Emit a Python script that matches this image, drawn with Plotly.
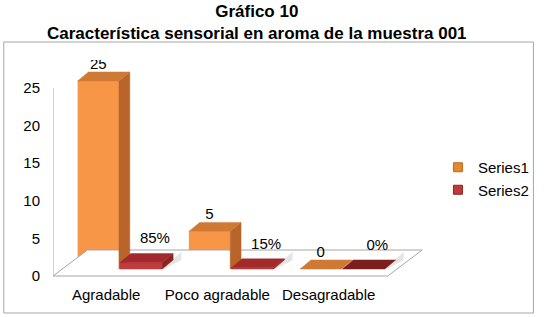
import plotly.graph_objects as go

# ---------------- data ----------------
categories = ["Agradable", "Poco agradable", "Desagradable"]
series1 = [25, 5, 0]
series2 = [0.85, 0.15, 0.0]
series2_labels = ["85%", "15%", "0%"]
y_ticks = [0, 5, 10, 15, 20, 25]

# ---------------- geometry (pixel-based helpers) ----------------
W, H = 546, 317
ML, MR, MT, MB = 53, 106, 60, 37
PW, PH = W - ML - MR, H - MT - MB
SX = 113.0          # px per category unit
SY = 7.52           # px per y unit
X0_PX = 107         # pixel centre of first category
Y0_PX = 276         # pixel of y = 0
xmin = (ML - X0_PX) / SX
xmax = (W - MR - X0_PX) / SX
ymin = -(MT + PH - Y0_PX) / SY
ymax = ymin + PH / SY

DX = 11 / SX        # depth offset
DY = 9 / SY
BASE = 7 / SY       # front faces sit slightly above the floor front edge
W1 = 42 / SX
OFF1 = -29 / SX
W2 = 43 / SX
OFF2 = 14 / SX

FONT = "Liberation Sans, Arial, sans-serif"
OR_FRONT, OR_SIDE, OR_TOP = "#F79646", "#B8642A", "#CF7A34"
RD_FRONT, RD_SIDE, RD_TOP = "#C43B3B", "#8E2222", "#A32A2C"


def px_to_paper_x(px):
    return (px - ML) / PW


def px_to_paper_y(py):
    return 1 - (py - MT) / PH


fig = go.Figure()

xs = list(range(len(categories)))

# floor parallelogram (front edge at y=0, back edge depth ~35px/26px)
fdx, fdy = 35 / SX, 26 / SY
fx_r = (393 - X0_PX) / SX
fig.add_trace(go.Scatter(
    x=[xmin, fx_r, fx_r + fdx, xmin + fdx, xmin],
    y=[0, 0, fdy, fdy, 0],
    mode="lines", line=dict(color="#A6A6A6", width=1),
    fill="toself", fillcolor="white", hoverinfo="skip", showlegend=False))
# vertical axis line
fig.add_trace(go.Scatter(
    x=[xmin, xmin], y=[0, max(y_ticks)], mode="lines",
    line=dict(color="#A6A6A6", width=1), hoverinfo="skip", showlegend=False))

# front faces (bars)
fig.add_trace(go.Bar(x=xs, y=series1, base=BASE, width=W1, offset=OFF1,
                     marker=dict(color=OR_FRONT, line=dict(width=0)),
                     showlegend=False, hoverinfo="skip"))
fig.add_trace(go.Bar(x=xs, y=series2, base=BASE, width=W2, offset=OFF2,
                     marker=dict(color=RD_FRONT, line=dict(width=0)),
                     showlegend=False, hoverinfo="skip"))


def poly(xv, yv, color):
    fig.add_trace(go.Scatter(x=xv + [xv[0]], y=yv + [yv[0]], mode="lines",
                             line=dict(color=color, width=0.5), fill="toself",
                             fillcolor=color, hoverinfo="skip", showlegend=False))


for i, c in enumerate(xs):
    # series 1 box
    v = series1[i]
    l, r = c + OFF1, c + OFF1 + W1
    b, t = BASE, BASE + v
    if v > 0:
        poly([r, r + DX, r + DX, r], [b, b + DY, t + DY, t], OR_SIDE)
    poly([l, l + DX, r + DX, r], [t, t + DY, t + DY, t], OR_TOP)
    # series 2 box
    v2 = series2[i]
    l2, r2 = c + OFF2, c + OFF2 + W2
    t2 = BASE + v2
    # soft shadow
    poly([r2 + 2 / SX, r2 + DX + 8 / SX, r2 + DX + 8 / SX, r2 + 2 / SX],
         [b, b + DY, b + DY + 1.0, b + 0.3], "#E4E4E4")
    if v2 > 0:
        poly([l2, r2, r2, l2], [b, b, t2, t2], RD_FRONT)
        poly([r2, r2 + DX, r2 + DX, r2], [b, b + DY, t2 + DY, t2], RD_SIDE)
    poly([l2, l2 + DX, r2 + DX, r2], [t2, t2 + DY, t2 + DY, t2],
         RD_TOP if i < 2 else "#7A1E1E")

# data labels
fig.add_trace(go.Scatter(
    x=[c + OFF1 + W1 / 2 for c in xs],
    y=[BASE + v + DY + 7 / SY for v in series1],
    mode="text", text=[str(v) for v in series1],
    textfont=dict(family=FONT, size=15, color="#000"),
    hoverinfo="skip", showlegend=False))
fig.add_trace(go.Scatter(
    x=[c + OFF2 + W2 / 2 + DX + 3 / SX for c in xs],
    y=[BASE + v + DY + 14 / SY for v in series2],
    mode="text", text=series2_labels,
    textfont=dict(family=FONT, size=15, color="#000"),
    hoverinfo="skip", showlegend=False))

# legend entries
fig.add_trace(go.Scatter(x=[None], y=[None], mode="markers", name="Series1",
                         marker=dict(symbol="square", size=9, color="#E0892F",
                                     line=dict(color="#C06A20", width=1))))
fig.add_trace(go.Scatter(x=[None], y=[None], mode="markers", name="Series2",
                         marker=dict(symbol="square", size=9, color="#C0393B",
                                     line=dict(color="#8E2222", width=1))))

fig.update_layout(
    width=W, height=H,
    margin=dict(l=ML, r=MR, t=MT, b=MB, pad=0),
    paper_bgcolor="white", plot_bgcolor="white",
    barmode="overlay",
    font=dict(family=FONT, size=15, color="#000"),
    showlegend=True,
    legend=dict(x=px_to_paper_x(444), y=px_to_paper_y(151), xanchor="left",
                yanchor="top", font=dict(size=15), bgcolor="rgba(0,0,0,0)",
                tracegroupgap=0, itemwidth=30),
    xaxis=dict(range=[xmin, xmax], tickvals=xs, ticktext=categories,
               showgrid=False, zeroline=False, showline=False, ticks="",
               ticklabelstandoff=4, fixedrange=True),
    yaxis=dict(range=[ymin, ymax], tickvals=y_ticks, showgrid=False,
               zeroline=False, showline=False, ticks="",
               ticklabelstandoff=12, fixedrange=True),
    shapes=[dict(type="rect", xref="paper", yref="paper",
                 x0=px_to_paper_x(3), x1=px_to_paper_x(541),
                 y0=px_to_paper_y(313), y1=px_to_paper_y(42),
                 line=dict(color="#A6A6A6", width=1), layer="below")],
    annotations=[dict(xref="paper", yref="paper", x=px_to_paper_x(260),
                      y=px_to_paper_y(0), xanchor="center", yanchor="top",
                      text="<b>Gráfico 10</b><br><b>Característica sensorial en aroma de la muestra 001</b>",
                      showarrow=False, font=dict(family=FONT, size=17, color="#000"))],
)

fig.write_html("out.html")
